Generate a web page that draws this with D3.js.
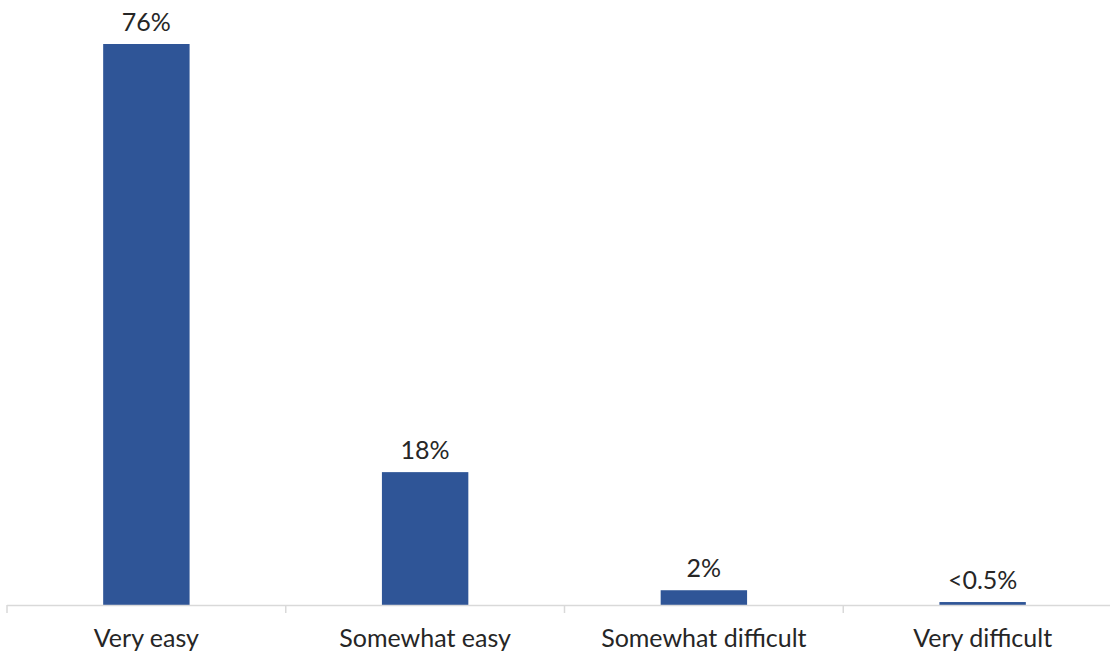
<!DOCTYPE html>
<html><head><meta charset="utf-8">
<script src="https://cdn.jsdelivr.net/npm/d3@7"></script>
<style>body{margin:0;background:#fff}svg{display:block}text{font-family:Lato,"Open Sans",sans-serif;fill:#262626}</style>
</head><body>
<svg id="c" width="1110" height="654"></svg>
<script>
const categories = ["Very easy","Somewhat easy","Somewhat difficult","Very difficult"];
const values = [76, 18, 2, 0.4];
const valueLabels = ["76%","18%","2%","<0.5%"];

const svg = d3.select("#c");
const baseY = 605;
const x = d3.scaleBand().domain(categories).range([7, 1122]).paddingInner(0.69).paddingOuter(0.345);
const y = d3.scaleLinear().domain([0, 76]).range([baseY, 44]);

svg.selectAll("rect.bar").data(values).enter().append("rect")
  .attr("class","bar")
  .attr("x",(d,i)=>x(categories[i]))
  .attr("width",x.bandwidth())
  .attr("y",d=>y(d))
  .attr("height",d=>baseY-y(d))
  .attr("fill","#2F5597");

// axis
const band = d3.scaleBand().domain(categories).range([7,1122]);
const axis = d3.axisBottom(band).tickSize(0).tickFormat("");
const gA = svg.append("g").attr("transform",`translate(0,${baseY})`).call(axis);
gA.select(".domain").attr("stroke","#d9d9d9").attr("stroke-width",1.5).attr("d","M7,0.5H1122");
const edges = categories.map(c=>band(c)).concat([band(categories[3])+band.bandwidth()]);
gA.selectAll("line.sep").data(edges).enter().append("line").attr("class","sep")
  .attr("x1",d=>d).attr("x2",d=>d).attr("y1",0).attr("y2",8)
  .attr("stroke","#d9d9d9").attr("stroke-width",1.5);

svg.selectAll("text.cat").data(categories).enter().append("text")
  .attr("class","cat")
  .attr("x",d=>band(d)+band.bandwidth()/2)
  .attr("y",647)
  .attr("text-anchor","middle")
  .attr("font-size",25)
  .text(d=>d);

svg.selectAll("text.val").data(values).enter().append("text")
  .attr("class","val")
  .attr("x",(d,i)=>x(categories[i])+x.bandwidth()/2)
  .attr("y",d=>y(d)-13)
  .attr("text-anchor","middle")
  .attr("font-size",25)
  .text((d,i)=>valueLabels[i]);
</script>
</body></html>
